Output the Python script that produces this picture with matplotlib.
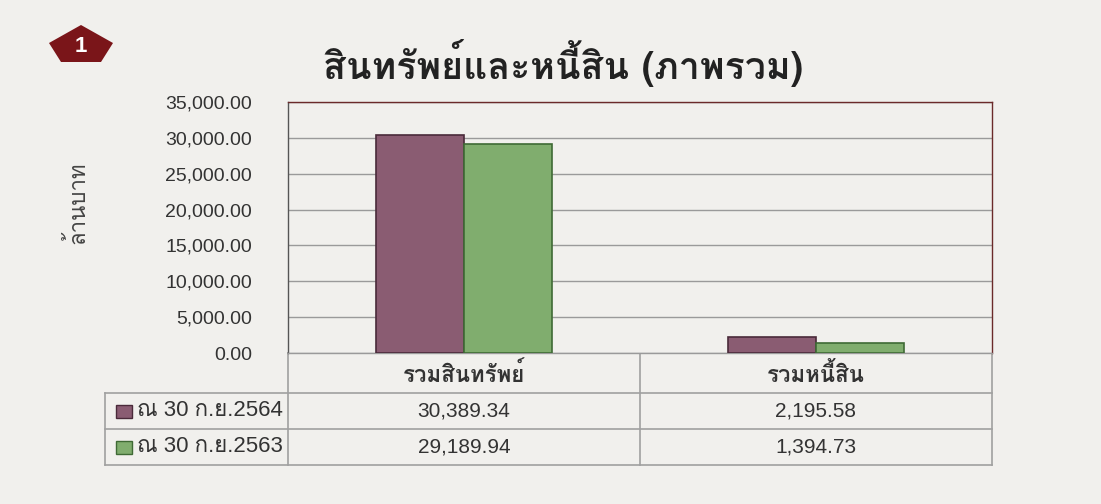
import matplotlib
matplotlib.use("Agg")
import matplotlib.pyplot as plt
from matplotlib.patches import Rectangle, Polygon

# Thai looped font first, Latin fallback after it
thai = ["Loma", "Waree", "Garuda", "DejaVu Sans"]
latin = ["Liberation Sans", "DejaVu Sans"]
mixed = ["Liberation Sans", "Loma", "DejaVu Sans"]
plt.rcParams["font.family"] = thai

categories = ["รวมสินทรัพย์", "รวมหนี้สิน"]
series_names = ["ณ 30 ก.ย.2564", "ณ 30 ก.ย.2563"]
values_2564 = [30389.34, 2195.58]
values_2563 = [29189.94, 1394.73]
value_labels_2564 = ["30,389.34", "2,195.58"]
value_labels_2563 = ["29,189.94", "1,394.73"]
yticks = [0, 5000, 10000, 15000, 20000, 25000, 30000, 35000]

colors = ["#8a5c72", "#80ad6e"]
edges = ["#4a2a3a", "#3f6a35"]
bg = "#f1f0ed"

W, H = 1101, 504
fig = plt.figure(figsize=(W / 100, H / 100), dpi=100, facecolor=bg)

# overlay in pixel coords for the table and the badge
ov = fig.add_axes([0, 0, 1, 1])
ov.set_xlim(0, W)
ov.set_ylim(H, 0)
ov.axis("off")

ax = fig.add_axes([288 / W, (H - 353) / H, (992 - 288) / W, (353 - 102) / H])
ax.set_facecolor(bg)
x = range(len(categories))
bw = 0.25
for i, (vals, c, e) in enumerate(zip([values_2564, values_2563], colors, edges)):
    ax.bar([k + (i - 0.5) * bw for k in x], vals, width=bw, color=c,
           edgecolor=e, linewidth=1.2, zorder=3)
ax.set_xlim(-0.5, 1.5)
ax.set_ylim(0, 35000)
ax.set_yticks(yticks)
ax.set_yticklabels([f"{v:,.2f}" for v in yticks], fontsize=14, color="#333333",
                   family=latin)
ax.tick_params(axis="y", length=0, pad=26)
ax.set_xticks([])
ax.grid(axis="y", color="#9a9a9a", linewidth=1, zorder=0)
for s in ["top", "right"]:
    ax.spines[s].set_color("#6b2a2a")
ax.spines["left"].set_color("#555555")
ax.spines["bottom"].set_color("#9a9a9a")
for s in ax.spines.values():
    s.set_linewidth(1)
ax.set_ylabel("ล้านบาท", fontsize=16, color="#444444")
ax.yaxis.set_label_coords(-0.282, 0.60)

# title
fig.text(563 / W, 1 - 63 / H, "สินทรัพย์และหนี้สิน (ภาพรวม)", ha="center",
         va="center", fontsize=27, fontweight="bold", color="#222222")

# badge
ov.add_patch(Polygon([(81, 25), (113, 43), (101, 62), (61, 62), (49, 43)],
                     closed=True, facecolor="#7a1519", edgecolor="none"))
ov.text(81, 46, "1", ha="center", va="center", fontsize=16, fontweight="bold",
        color="white", family=latin)

# data table
lc = "#a0a0a0"
x0, x1, x2, x3 = 105, 288, 640, 992
ys = [353, 393, 429, 465]
ov.plot([x1, x3], [ys[0], ys[0]], color=lc, lw=1.2)
for yy in ys[1:]:
    ov.plot([x0, x3], [yy, yy], color=lc, lw=1.2)
ov.plot([x0, x0], [ys[1], ys[3]], color=lc, lw=1.2)
for xx in [x1, x2, x3]:
    ov.plot([xx, xx], [ys[0], ys[3]], color=lc, lw=1.2)

centers = [(x1 + x2) / 2, (x2 + x3) / 2]
for cx, cat in zip(centers, categories):
    ov.text(cx, (ys[0] + ys[1]) / 2 + 1, cat, ha="center", va="center",
            fontsize=16, fontweight="bold", color="#333333")
rows = [value_labels_2564, value_labels_2563]
for r, (name, labels) in enumerate(zip(series_names, rows)):
    cy = (ys[r + 1] + ys[r + 2]) / 2
    ov.add_patch(Rectangle((116, cy - 6), 16, 13, facecolor=colors[r],
                           edgecolor=edges[r], lw=1))
    ov.text(137, cy, name, ha="left", va="center", fontsize=16, color="#333333",
            family=mixed)
    for cx, lab in zip(centers, labels):
        ov.text(cx, cy, lab, ha="center", va="center", fontsize=15,
                color="#333333", family=latin)

fig.savefig("out.png", dpi=100, facecolor=bg)
